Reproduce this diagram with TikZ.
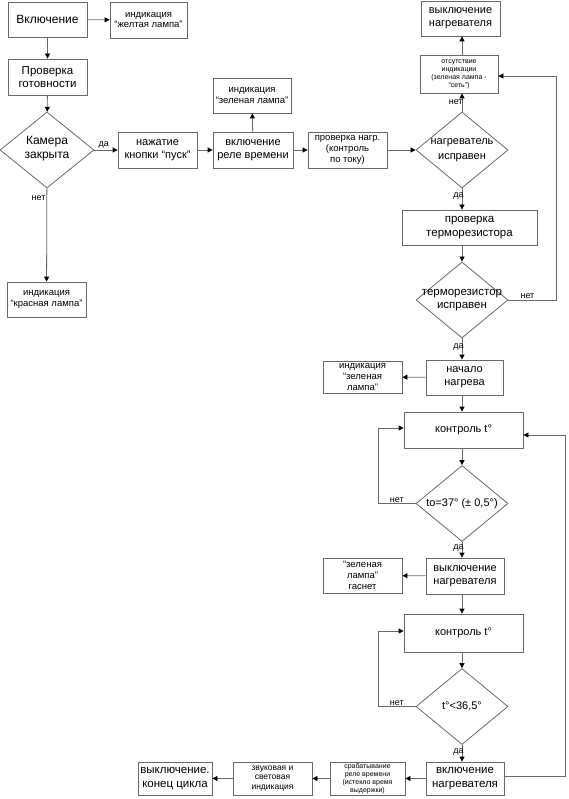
\documentclass[tikz,border=0pt]{standalone}
\usepackage{fontspec}
\setmainfont{Liberation Sans}
\usetikzlibrary{shapes.geometric,arrows.meta}
\definecolor{lg}{RGB}{105,105,105}
\newcommand{\fs}[1]{\fontsize{#1pt}{\dimexpr #1pt*115/100\relax}\selectfont}
\tikzset{
  box/.style={draw=lg, line width=0.8pt, inner sep=0pt, align=center, text=black},
  dia/.style={diamond, draw=lg, line width=0.8pt, inner sep=0pt, minimum width=92pt, minimum height=76pt},
  arr/.style={draw=lg, line width=0.8pt, -{Triangle[length=5pt,width=5pt,color=black,fill=black]}},
  ln/.style={draw=lg, line width=0.8pt},
  lab/.style={font=\fs{9}, text=black, inner sep=1pt}
}
\begin{document}
\begin{tikzpicture}[x=1pt,y=-1pt]
\useasboundingbox (0,0) rectangle (568,799);
% left column
\node[box, minimum width=79pt, minimum height=35pt, font=\fs{12}] (n1) at (47.5,19.5) {Включение};
\node[box, minimum width=77pt, minimum height=36pt, font=\fs{9.5}] (y1) at (148.5,20) {индикация\\“желтая лампа”};
\node[box, minimum width=79pt, minimum height=36pt, font=\fs{11.5}] (n2) at (47.5,77) {Проверка\\готовности};
\node[dia, minimum width=94pt] (d1) at (47,150) {};
\node[font=\fs{12}, align=center] at (47,149) {Камера\\закрыта};
\node[box, minimum width=79pt, minimum height=35pt, font=\fs{9.5}] (r1) at (46.5,299.5) {индикация\\“красная лампа”};
% middle row
\node[box, minimum width=79pt, minimum height=36pt, font=\fs{11}] (n3) at (157.5,150) {нажатие\\кнопки “пуск”};
\node[box, minimum width=80pt, minimum height=36pt, font=\fs{11}] (n4) at (253,150) {включение\\реле времени};
\node[box, minimum width=78pt, minimum height=35pt, font=\fs{9.5}] (g1) at (252,95.5) {индикация\\“зеленая лампа”};
\node[box, minimum width=79pt, minimum height=36pt, font=\fs{9.5}] (n5) at (347.5,150) {проверка нагр.\\(контроль\\по току)};
% right column
\node[dia] (d2) at (462,150) {};
\node[font=\fs{11}, align=center] at (462,150) {нагреватель\\[2pt]исправен};
\node[box, minimum width=78pt, minimum height=38pt, font=\fs{7}] (o1) at (459,74) {отсутствие\\индикации\\(зеленая лампа -\\“сеть”)};
\node[box, minimum width=79pt, minimum height=35pt, font=\fs{11}] (t1) at (460.5,18.5) {выключение\\нагревателя};
\node[box, minimum width=135pt, minimum height=35pt, font=\fs{11.5}] (n6) at (469.5,227.5) {проверка\\терморезистора};
\node[dia] (d3) at (462,300) {};
\node[font=\fs{11.5}, align=center] at (462,300) {терморезистор\\исправен};
\node[box, minimum width=77pt, minimum height=35pt, font=\fs{11}] (n7) at (464.5,377.5) {начало\\нагрева};
\node[box, minimum width=79pt, minimum height=32pt, font=\fs{9.5}] (g2) at (362.5,377) {индикация\\“зеленая\\лампа”};
\node[box, minimum width=119pt, minimum height=36pt, font=\fs{11}] (k1) at (463.5,430) {контроль t°};
\node[dia] (d4) at (462,503.5) {};
\node[font=\fs{11}] at (462,503.5) {to=37° (± 0,5°)};
\node[box, minimum width=78pt, minimum height=36pt, font=\fs{11}] (n8) at (465,576) {выключение\\нагревателя};
\node[box, minimum width=79pt, minimum height=35pt, font=\fs{9.5}] (g3) at (362.5,575.5) {“зеленая\\лампа”\\гаснет};
\node[box, minimum width=119pt, minimum height=38pt, font=\fs{11}] (k2) at (463.5,633) {контроль t°};
\node[dia] (d5) at (462,706.5) {};
\node[font=\fs{11}] at (462,706.5) {t°<36,5°};
\node[box, minimum width=78pt, minimum height=33pt, font=\fs{11.5}] (n9) at (465,778.5) {включение\\нагревателя};
\node[box, minimum width=75pt, minimum height=33pt, font=\fs{7}] (s1) at (367.5,778.5) {срабатывание\\реле времени\\(истекло время\\выдержки)};
\node[box, minimum width=79pt, minimum height=33pt, font=\fs{8.5}] (z1) at (272.5,778.5) {звуковая и\\световая\\индикация};
\node[box, minimum width=74pt, minimum height=33pt, font=\fs{11.5}] (e1) at (175,778.5) {выключение.\\конец цикла};
% coordinates (x positions of the loop lines)
\coordinate (cR1) at (556,0);
\coordinate (cR2) at (565,0);
\coordinate (cL1) at (378,0);
% connectors
\draw[arr] (n1) -- (y1);
\draw[arr] (n1) -- (n2);
\draw[arr] (n2) -- (d1);
\draw[arr] (d1) -- node[lab, above, pos=0.4]{да} (n3);
\draw[arr] (d1) -- node[lab, left, pos=0.1]{нет} (r1);
\draw[arr] (n3) -- (n4);
\draw[arr] (n4) -- (g1);
\draw[arr] (n4) -- (n5);
\draw[arr] (n5) -- (d2);
\draw[arr] (d2.north) -- node[lab, left, pos=0.5, xshift=2pt]{нет} (d2.north |- o1.south);
\draw[arr] (o1.north -| d2.north) -- (d2.north |- t1.south);
\draw[arr] (d2.south) -- node[lab, left, pos=0.35, xshift=3pt]{да} (d2.south |- n6.north);
\draw[arr] (d2.south |- n6.south) -- (d3.north);
\draw[arr] (d3.east) -- node[lab, above, pos=0.4]{нет} (d3.east -| cR1) |- ([yshift=-2pt]o1.east);
\draw[arr] (d3.south) -- node[lab, left, pos=0.4, xshift=3pt]{да} (d3.south |- n7.north);
\draw[arr] (n7) -- (g2);
\draw[arr] (d3.south |- n7.south) -- (d3.south |- k1.north);
\draw[arr] (d3.south |- k1.south) -- (d4.north);
\draw[arr] (d4.west) -- node[lab, above, pos=0.5]{нет} (d4.west -| cL1) |- ([yshift=2pt]k1.west);
\draw[arr] (d4.south) -- node[lab, left, pos=0.4, xshift=3pt]{да} (d4.south |- n8.north);
\draw[arr] (n8) -- (g3);
\draw[arr] (d4.south |- n8.south) -- (d4.south |- k2.north);
\draw[arr] (d4.south |- k2.south) -- (d5.north);
\draw[arr] (d5.west) -- node[lab, above, pos=0.5]{нет} (d5.west -| cL1) |- ([yshift=2pt]k2.west);
\draw[arr] (d5.south) -- node[lab, left, pos=0.4, xshift=3pt]{да} (d5.south |- n9.north);
\draw[arr] ([yshift=2.5pt]n9.east) -- ([yshift=2.5pt]n9.east -| cR2) |- ([yshift=-5pt]k1.east);
\draw[arr] (n9) -- (s1);
\draw[arr] (s1) -- (z1);
\draw[arr] (z1) -- (e1);
\end{tikzpicture}
\end{document}
